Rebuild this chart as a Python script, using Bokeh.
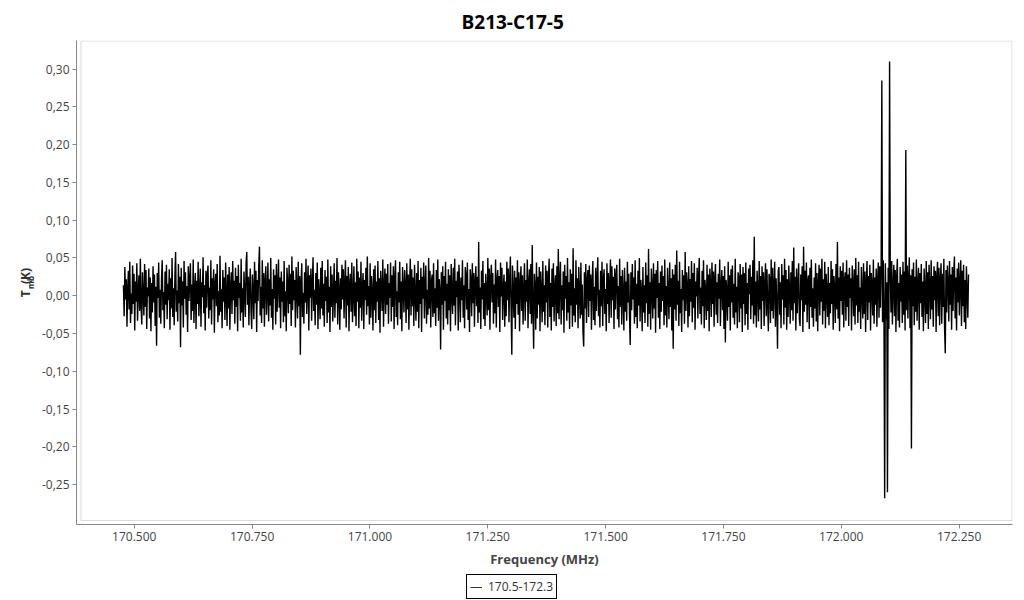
import numpy as np
from bokeh.plotting import figure
from bokeh.layouts import column, row
from bokeh.models import (Range1d, FixedTicker, CustomJSTickFormatter, Legend,
                          LegendItem, BoxAnnotation, LinearAxis, Spacer)
from bokeh.embed import file_html
from bokeh.resources import INLINE

# ---------------- data ----------------
title_text = "B213-C17-5"
series_label = "170.5-172.3"
x_label = "Frequency (MHz)"
y_label_main = "T\u00a0\u00a0(K)"
y_label_sub = "mb"
freq_first = 170.477   # MHz, first channel
freq_last = 172.270    # MHz, last channel
x_ticks = [170.5, 170.75, 171.0, 171.25, 171.5, 171.75, 172.0, 172.25]
y_ticks = [-0.25, -0.20, -0.15, -0.10, -0.05, 0.0, 0.05, 0.10, 0.15, 0.20, 0.25, 0.30]

# main-beam temperature per channel, in mK
tmb_mK = [
    14, -27, 38, -5, 22, -41, 9, 33, -18, 45, -36, 3, -24, 40, -11, 29, -46, 19, -8, 43,
    -33, 6, 27, -20, 49, -14, -38, 31, 2, -26, 42, -15, 34, -44, 11, -1, 36, -30, 24, -47,
    17, -22, 39, -9, 28, -40, 12, -66, 30, -3, 44, -29, 8, -37, 21, 47, -19, 5, -43, 32,
    -12, 41, -31, 16, -6, 35, -45, 23, -17, 50, -28, 10, -39, 26, 58, -21, 7, -34, 42, -10,
    25, -68, 37, -13, 19, -42, 46, -4, 31, -25, 13, -48, 39, -7, 22, 43, -32, 15, -20, 48,
    -36, 8, 30, -44, 20, -11, 45, -27, 4, 36, -41, 18, -2, 51, -23, 14, -46, 33, -16, 27,
    40, -30, 11, -19, 47, -38, 23, -5, 35, -49, 16, 29, -14, 42, -35, 6, -26, 53, -21, 9,
    -43, 34, -8, 24, -32, 44, 1, -40, 28, -17, 38, -45, 12, 31, -24, 46, -6, 20, -37, 37,
    -15, 26, -47, 41, -3, 17, -33, 49, -22, 10, -42, 32, 5, -28, 43, 58, -12, 25, -39, 15,
    36, -20, -44, 28, 7, -31, 45, -10, 33, -48, 21, -7, 40, 65, -26, 12, -36, 47, -17, 30,
    -41, 18, 39, -25, 3, 44, -34, 22, -13, 50, -29, 9, -45, 35, -4, 27, -38, 42, -21, 13,
    48, -16, 24, -43, 32, -8, 19, -35, 46, -27, 6, -47, 37, 15, -23, 41, -11, 29, -40, 52,
    -19, 33, -6, 21, -42, 38, 10, -30, 45, -14, 26, -78, 17, 43, -28, 4, -37, 31, -9, 49,
    -24, 11, 40, -46, 27, -3, 36, -33, 14, 51, -20, 8, -39, 30, -12, 44, -44, 22, 2, -31,
    37, -17, 46, -26, 16, -41, 34, -7, 25, -36, 48, -22, 12, -48, 39, -15, 28, -34, 5, 43,
    -29, 20, -10, 50, -38, 31, 7, -45, 23, -18, 41, -5, 35, -30, 17, 47, -42, 26, -13, 38,
    -47, 15, 29, -21, 44, -35, 3, 39, -27, 18, -40, 49, -8, 32, -43, 24, -16, 45, -33, 10,
    30, -44, 21, -6, 37, -25, 52, -14, 13, -38, 43, -29, 26, 5, -46, 35, -19, 40, -36, 19,
    -8, 46, -32, 23, -49, 33, 9, -20, 48, -41, 14, 36, -24, 29, -12, 42, -37, 17, -3, 44,
    -34, 27, -15, 39, -44, 22, 47, -28, 6, -39, 31, -9, 45, -31, 19, -47, 38, 11, -22, 34,
    12, -36, 43, -18, 28, -45, 16, 49, -26, 35, -14, 24, -40, 41, 2, -33, 30, -21, 46, -43,
    21, -11, 37, -48, 25, -4, 44, -30, 15, 40, -37, 8, -25, 50, -17, 33, -42, 19, 28, -28,
    43, -23, 10, -40, 34, -16, 48, -33, 22, 7, -71, 31, -12, 39, -45, 26, -7, 45, -30, 16,
    -38, 35, -19, 27, -47, 42, 4, -24, 37, -13, 49, -39, 20, -2, 32, -46, 41, 13, -35, 24,
    -6, 47, -29, 14, -43, 38, 26, -18, 44, -32, 9, -48, 35, 21, -27, 43, -10, 30, -41, 18,
    39, -14, 25, -36, 71, -22, 11, -44, 33, -5, 46, -31, 17, -40, 29, 3, -26, 50, -19, 36,
    -45, 23, 41, -9, 30, -37, 15, -23, 48, -42, 20, 34, -15, 26, -48, 44, -1, 37, -32, 12,
    28, -41, 19, -27, 45, -6, 36, -35, 22, 52, -18, -78, 40, 8, -29, 33, -44, 24, -11, 47,
    -25, 31, -47, 16, 39, -20, 27, -38, 10, 43, -33, 21, -8, 48, -43, 18, 35, -24, 42, -37,
    67, -16, -70, 29, 13, -45, 44, -30, 25, -12, 38, -47, 32, 6, -35, 46, -21, 14, -39, 40,
    -9, 33, -42, 24, 49, -28, 17, -46, 36, -15, 43, -34, 11, 27, -40, 39, -23, 62, -31, 20,
    45, -38, 14, -19, 32, -49, 41, -4, 26, -33, 50, -22, 18, -44, 35, -13, 29, -41, 63, -26,
    10, -35, 47, -12, 23, -43, 38, 1, -30, 44, -25, 15, -48, -67, 31, -17, 42, -36, 20, 34,
    -28, 40, -7, 28, -45, 19, 46, -32, 12, -39, 37, -20, 24, 51, -27, 8, -42, 33, -14, 45,
    -40, 22, 35, -24, 9, -47, 43, -11, 30, -36, 16, 48, -29, 39, -6, 25, -44, 36, -18, 27,
    41, -31, 13, -42, 49, -15, 26, -38, 34, 4, -46, 37, -21, 19, -33, 45, -9, 29, -26, -65,
    31, -19, 42, -5, 24, -37, 47, -28, 16, -43, 33, -13, 50, -34, 21, 7, -47, 38, -22, 14,
    -36, 44, -10, 27, -41, 62, -24, 18, -45, 36, 11, -30, 43, -17, 29, -49, 34, -3, 46, -29,
    17, -44, 32, -21, 40, -7, 26, -39, 48, -26, 13, -42, 37, 3, -31, 44, -15, 23, -46, 35,
    -70, 28, -18, 41, -33, 60, -12, 20, -40, 45, -23, 9, -48, 34, -6, 27, -37, 58, -20, 31,
    14, -42, 39, -27, 22, -8, 46, -35, 30, -16, 43, -45, 19, -1, 37, -30, 25, 50, -24, 11,
    -38, 33, -14, 47, -43, 21, 8, -32, 41, -20, 28, -47, 36, 15, -28, 44, -11, 32, -41, 23,
    42, -25, 18, -36, 29, -4, 48, -40, 13, 34, -19, 26, -44, 39, -62, 21, 6, -33, 45, -15,
    27, -46, 35, -9, 40, -29, 16, -38, 49, -22, 12, -43, 31, 24, -35, 42, -17, 28, -48, 38,
    -11, 30, -39, 44, -24, 17, -45, 36, 2, 41, -31, 25, -13, 47, -37, 78, -26, 19, -42, 33,
    8, -34, 46, -18, 26, -44, 39, -7, 31, -40, 15, 43, -27, 35, -12, -47, 29, 21, -36, 48,
    -20, 37, -30, 12, 45, -41, 23, -14, -70, 33, 38, -25, 18, -43, 42, -5, 27, -38, 49, -16,
    34, -45, 22, -28, 40, 7, -37, 31, -19, 46, -33, 64, -10, 25, -46, 36, -23, 16, 43, -31,
    -40, 28, -6, 39, -48, 65, -21, 33, -12, 44, -35, 19, 27, -44, 37, -15, 48, -29, 10, -41,
    24, -17, 43, -34, 30, -47, 14, 41, -26, 36, -8, 49, -38, 22, -20, 45, -43, 29, 5, -28,
    38, -39, 17, -23, 46, -11, 35, -45, 26, 12, -36, 42, -18, 71, -30, 24, -47, 39, -7, 33,
    -25, 44, -42, 20, 31, -33, 47, -15, 28, -40, 37, -3, 23, -46, 40, 16, -27, 35, -38, 50,
    -13, 27, -36, 45, -21, 11, -44, 38, 4, -30, 43, -24, 32, -48, 19, 46, -32, 26, -9, 41,
    -46, 30, 15, -26, 48, -37, 24, -12, 36, -41, 21, 44, -29, 39, -16, 33, 285, -35, 47, -20,
    -268, 43, -31, 18, -260, 37, -44, 310, 29, -22, 46, -38, 13, 41, -27, 34, -48, 24, 49, -33,
    17, -42, 38, -8, 28, -36, 45, -25, 32, -46, 193, -19, 40, -30, 22, 51, -43, 27, -202, 35,
    -14, 44, -39, 25, -21, 48, -33, 16, 37, -45, 30, -10, 42, -28, 19, -47, 36, 8, -36, 46,
    -24, 31, -44, 41, 12, -31, 47, -18, 26, -41, 39, -6, 33, -48, 23, 45, -27, 37, -39, 20,
    43, -37, 29, -15, 49, -43, -76, 34, -22, 40, 18, -34, 46, -12, 28, -45, 38, -20, 31, 52,
    -30, 24, -46, 36, -9, 44, -26, 17, 47, -40, 33, -14, 41, -35, 21, -44, 39, 6, -29, 28,
]

tmb = np.array(tmb_mK, dtype=float) / 1000.0
freq = np.linspace(freq_first, freq_last, len(tmb))

# ---------------- styling ----------------
FONT = "Open Sans"
AXIS_GREY = "#888888"
X0, X1 = 170.3774, 172.3633
Y0, Y1 = -0.3027, 0.3378

# ---- main chart ----
p = figure(width=1024, height=574, output_backend="svg", toolbar_location=None,
           x_range=Range1d(X0, X1), y_range=Range1d(Y0, Y1),
           min_border_left=76, min_border_right=12, min_border_top=38,
           min_border_bottom=50)
p.outline_line_color = None
p.xgrid.visible = False
p.ygrid.visible = False

p.title.text = title_text
p.title.align = "left"
p.title.offset = 385
p.title.standoff = 12
p.title.text_font = FONT
p.title.text_font_size = "19px"
p.title.text_font_style = "bold"
p.title.text_color = "black"

r = p.line(freq, tmb, line_color="black", line_width=1.4)

for ax in (p.xaxis[0], p.yaxis[0]):
    ax.axis_line_color = AXIS_GREY
    ax.major_tick_line_color = AXIS_GREY
    ax.major_tick_out = 4
    ax.major_tick_in = 0
    ax.minor_tick_line_color = None
    ax.major_label_text_font = FONT
    ax.major_label_text_font_size = "12px"
    ax.major_label_text_color = "#444444"
    ax.major_label_standoff = 3

p.xaxis.ticker = FixedTicker(ticks=x_ticks)
p.yaxis.ticker = FixedTicker(ticks=y_ticks)
p.xaxis.formatter = CustomJSTickFormatter(code="return tick.toFixed(3);")
p.yaxis.formatter = CustomJSTickFormatter(code="return tick.toFixed(2).replace('.', ',');")

p.xaxis.axis_label = x_label
p.xaxis.axis_label_text_font = FONT
p.xaxis.axis_label_text_font_size = "13px"
p.xaxis.axis_label_text_font_style = "bold"
p.xaxis.axis_label_text_color = "#444444"
p.xaxis.axis_label_standoff = 6

# inner frame (double border look)
p.add_layout(BoxAnnotation(left=170.3869, right=X1 - 0.5 / 471.3,
                           bottom=-0.2974, top=Y1 - 0.5 / 758.8,
                           fill_alpha=0, line_color=AXIS_GREY, line_width=1))

# y axis title "T_mb (K)": subscript and main text as labels of two bare axes
def label_only_axis(text, size, standoff):
    a = LinearAxis(ticker=FixedTicker(ticks=[]))
    a.axis_line_color = None
    a.major_tick_line_color = None
    a.minor_tick_line_color = None
    a.major_tick_out = 0
    a.major_tick_in = 0
    a.axis_label = text
    a.axis_label_text_font = FONT
    a.axis_label_text_font_style = "bold"
    a.axis_label_text_font_size = size
    a.axis_label_text_color = "#333333"
    a.axis_label_standoff = standoff
    return a

p.add_layout(label_only_axis(y_label_sub, "8px", 3), "left")
p.add_layout(label_only_axis(y_label_main, "12px", -12), "left")

# ---- legend (own small figure under the chart) ----
leg_fig = figure(width=96, height=26, output_backend="svg", toolbar_location=None,
                 title=None, x_axis_type=None, y_axis_type=None,
                 x_range=Range1d(0, 1), y_range=Range1d(0, 1),
                 min_border_left=0, min_border_right=0, min_border_top=0,
                 min_border_bottom=0)
leg_fig.outline_line_color = None
r_leg = leg_fig.line(freq, tmb, line_color="#333333", line_width=1)  # lies outside view

legend = Legend(items=[LegendItem(label=series_label, renderers=[r_leg])],
                location="top_left")
legend.border_line_color = "black"
legend.border_line_width = 1
legend.border_line_alpha = 1
legend.background_fill_color = "white"
legend.background_fill_alpha = 1
legend.padding = 3
legend.margin = 0
legend.spacing = 0
legend.glyph_width = 12
legend.glyph_height = 16
legend.label_standoff = 6
legend.label_height = 16
legend.label_text_font = FONT
legend.label_text_font_size = "12px"
legend.label_text_color = "#333333"
leg_fig.add_layout(legend)

layout = column(p, row(Spacer(width=466, height=26), leg_fig))

open("out.html", "w").write(file_html(layout, INLINE))
